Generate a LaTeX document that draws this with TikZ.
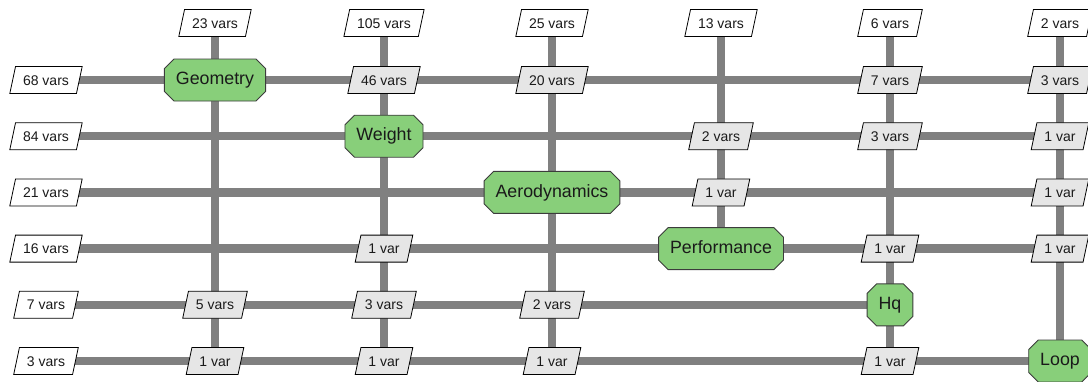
\documentclass[tikz,border=0pt]{standalone}
\usepackage{fontspec}
\setmainfont{Liberation Sans}
\usetikzlibrary{shapes.geometric,shapes.misc}
\pgfdeclarelayer{bg}
\pgfsetlayers{bg,main}
\definecolor{pipe}{HTML}{808080}
\definecolor{compfill}{HTML}{88CF7A}
\definecolor{datafill}{HTML}{E6E6E6}
\definecolor{ink}{HTML}{1A1A1A}
\tikzset{
  comp/.style={chamfered rectangle, chamfered rectangle xsep=6pt,
    draw=ink!85, line width=0.9pt, fill=compfill, text=ink,
    inner xsep=5.5pt, inner ysep=0pt, minimum height=42pt,
    font=\fontsize{17.8}{17.8}\selectfont, text height=12.5pt, text depth=3pt},
  databox/.style={trapezium, trapezium left angle=78, trapezium right angle=102,
    draw=black, line width=0.8pt, fill=datafill, text=ink,
    inner xsep=7.5pt, inner ysep=8.5pt,
    font=\fontsize{14}{14}\selectfont, text height=10pt, text depth=0pt},
  inbox/.style={databox, fill=white},
  pipeline/.style={draw=pipe, line width=8.5pt}
}
\begin{document}
\begin{tikzpicture}[x=1pt,y=-1pt]
\useasboundingbox (0,0) rectangle (1088,381);
\def\ca{215}\def\cb{384}\def\cc{552}\def\cd{721}\def\ce{890}\def\cf{1060}
\def\rz{23}\def\ra{80}\def\rb{136.2}\def\rc{192.4}\def\rd{248.6}\def\re{304.8}\def\rf{361}
\def\lx{46}
% top inputs
\node[inbox] (t1) at (\ca,\rz) {23 vars};
\node[inbox] (t2) at (\cb,\rz) {105 vars};
\node[inbox] (t3) at (\cc,\rz) {25 vars};
\node[inbox] (t4) at (\cd,\rz) {13 vars};
\node[inbox] (t5) at (\ce,\rz) {6 vars};
\node[inbox] (t6) at (\cf,\rz) {2 vars};
% left inputs
\node[inbox] (l1) at (\lx,\ra) {68 vars};
\node[inbox] (l2) at (\lx,\rb) {84 vars};
\node[inbox] (l3) at (\lx,\rc) {21 vars};
\node[inbox] (l4) at (\lx,\rd) {16 vars};
\node[inbox] (l5) at (\lx,\re) {7 vars};
\node[inbox] (l6) at (\lx,\rf) {3 vars};
% components
\node[comp] (geo) at (\ca,\ra) {Geometry};
\node[comp] (wt) at (\cb,\rb) {Weight};
\node[comp] (aero) at (\cc,\rc) {Aerodynamics};
\node[comp] (perf) at (\cd,\rd) {Performance};
\node[comp] (hq) at (\ce,\re) {Hq};
\node[comp] (loop) at (\cf,\rf) {Loop};
% couplings
\node[databox] (b12) at (\cb,\ra) {46 vars};
\node[databox] (b13) at (\cc,\ra) {20 vars};
\node[databox] (b15) at (\ce,\ra) {7 vars};
\node[databox] (b16) at (\cf,\ra) {3 vars};
\node[databox] (b24) at (\cd,\rb) {2 vars};
\node[databox] (b25) at (\ce,\rb) {3 vars};
\node[databox] (b26) at (\cf,\rb) {1 var};
\node[databox] (b34) at (\cd,\rc) {1 var};
\node[databox] (b36) at (\cf,\rc) {1 var};
\node[databox] (b42) at (\cb,\rd) {1 var};
\node[databox] (b45) at (\ce,\rd) {1 var};
\node[databox] (b46) at (\cf,\rd) {1 var};
\node[databox] (b51) at (\ca,\re) {5 vars};
\node[databox] (b52) at (\cb,\re) {3 vars};
\node[databox] (b53) at (\cc,\re) {2 vars};
\node[databox] (b61) at (\ca,\rf) {1 var};
\node[databox] (b62) at (\cb,\rf) {1 var};
\node[databox] (b63) at (\cc,\rf) {1 var};
\node[databox] (b65) at (\ce,\rf) {1 var};
\begin{pgfonlayer}{bg}
% rows
\draw[pipeline] (l1.center) -- (b16.center);
\draw[pipeline] (l2.center) -- (b26.center);
\draw[pipeline] (l3.center) -- (b36.center);
\draw[pipeline] (l4.center) -- (b46.center);
\draw[pipeline] (l5.center) -- (hq.center);
\draw[pipeline] (l6.center) -- (loop.center);
% columns
\draw[pipeline] (t1.center) -- (b61.center);
\draw[pipeline] (t2.center) -- (b62.center);
\draw[pipeline] (t3.center) -- (b63.center);
\draw[pipeline] (t4.center) -- (perf.center);
\draw[pipeline] (t5.center) -- (b65.center);
\draw[pipeline] (t6.center) -- (loop.center);
\end{pgfonlayer}
\end{tikzpicture}
\end{document}
